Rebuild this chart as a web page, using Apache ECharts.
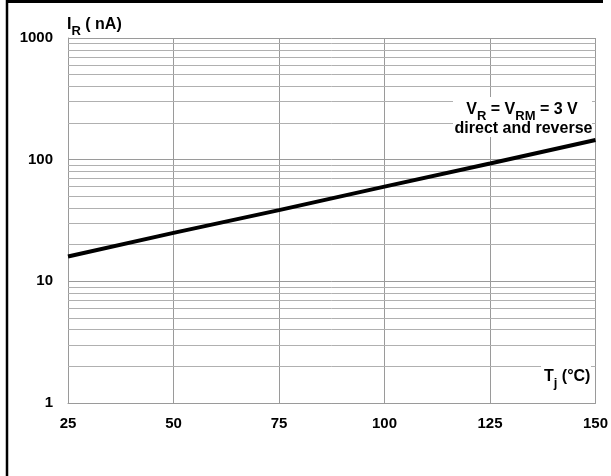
<!DOCTYPE html>
<html>
<head>
<meta charset="utf-8">
<script src="https://cdn.jsdelivr.net/npm/echarts@6/dist/echarts.min.js"></script>
<style>
html,body{margin:0;padding:0;background:#fff;}
#c{width:611px;height:476px;}
</style>
</head>
<body>
<div id="c"></div>
<script>
// Data
var temps = [25, 50, 75, 100, 125, 150];           // Tj (°C)
var currents = [16, 25, 38.5, 60, 93, 145];         // IR (nA)
var xTicks = [25, 50, 75, 100, 125, 150];
var yTicks = [1, 10, 100, 1000];
var yMinorLines = [2,3,4,5,6,7,8,9,20,30,40,50,60,70,80,90,200,300,400,500,600,700,800,900];

var chart = echarts.init(document.getElementById('c'), null, {renderer: 'canvas'});
var font = 'Arial, "Liberation Sans", sans-serif';
var gridColor = '#9a9a9a';

var seriesData = temps.map(function (t, i) { return [t, currents[i]]; });

var richMain = {fontFamily: font, fontWeight: 'bold', fontSize: 16, fill: '#000', lineHeight: 18, verticalAlign: 'bottom'};
var richSub = {fontFamily: font, fontWeight: 'bold', fontSize: 13, fill: '#000', lineHeight: 13, verticalAlign: 'bottom', padding: [0, 0, -5, 0]};

chart.setOption({
  animation: false,
  backgroundColor: '#fff',
  grid: {left: 68, top: 38, right: 14, bottom: 73, containLabel: false},
  xAxis: {
    type: 'value',
    min: xTicks[0], max: xTicks[xTicks.length - 1], interval: 25,
    axisLine: {show: true, lineStyle: {color: gridColor, width: 1}},
    axisTick: {show: false},
    splitLine: {show: true, lineStyle: {color: gridColor, width: 1}},
    axisLabel: {color: '#000', fontFamily: font, fontWeight: 'bold', fontSize: 15, margin: 13}
  },
  yAxis: {
    type: 'log', logBase: 10,
    min: yTicks[0], max: yTicks[yTicks.length - 1],
    axisLine: {show: true, lineStyle: {color: gridColor, width: 1}},
    axisTick: {show: false},
    splitLine: {show: true, lineStyle: {color: gridColor, width: 1}},
    axisLabel: {color: '#000', fontFamily: font, fontWeight: 'bold', fontSize: 15, margin: 15,
      formatter: function (v) { return String(v); }}
  },
  series: [{
    type: 'line',
    data: seriesData,
    symbol: 'none',
    lineStyle: {color: '#000', width: 4},
    z: 5,
    markLine: {
      silent: true,
      symbol: 'none',
      label: {show: false},
      lineStyle: {color: '#b0b0b0', width: 1, type: 'solid'},
      data: yMinorLines.map(function (v) { return {yAxis: v}; }),
      z: 1
    }
  }],
  graphic: [
    {type: 'line', shape: {x1: 7, y1: 0, x2: 7, y2: 476}, style: {stroke: '#000', lineWidth: 2.5}},
    {type: 'line', shape: {x1: 6, y1: 1.5, x2: 603, y2: 1.5}, style: {stroke: '#000', lineWidth: 3}},
    // y axis title
    {
      type: 'text', x: 67, y: 33, z: 100,
      style: {
        text: '{a|I}{s|R}{a| ( nA)}',
        align: 'left', verticalAlign: 'bottom',
        rich: {a: richMain, s: richSub}
      }
    },
    // annotation box
    {type: 'rect', shape: {x: 453, y: 97, width: 139, height: 40}, style: {fill: '#fff'}, z: 99},
    {
      type: 'text', x: 522, y: 118, z: 100,
      style: {
        text: '{a|V}{s|R}{a| = V}{s|RM}{a| = 3 V}',
        align: 'center', verticalAlign: 'bottom',
        rich: {a: richMain, s: richSub}
      }
    },
    {
      type: 'text', x: 523.5, y: 129, z: 100,
      style: {
        text: 'direct and reverse',
        align: 'center', verticalAlign: 'middle',
        fontFamily: font, fontWeight: 'bold', fontSize: 16, fill: '#000'
      }
    },
    // x axis title
    {type: 'rect', shape: {x: 541, y: 364, width: 50, height: 30}, style: {fill: '#fff'}, z: 99},
    {
      type: 'text', x: 544, y: 385, z: 100,
      style: {
        text: '{a|T}{s|j}{a| (°C)}',
        align: 'left', verticalAlign: 'bottom',
        rich: {a: richMain, s: richSub}
      }
    }
  ]
});
</script>
</body>
</html>
